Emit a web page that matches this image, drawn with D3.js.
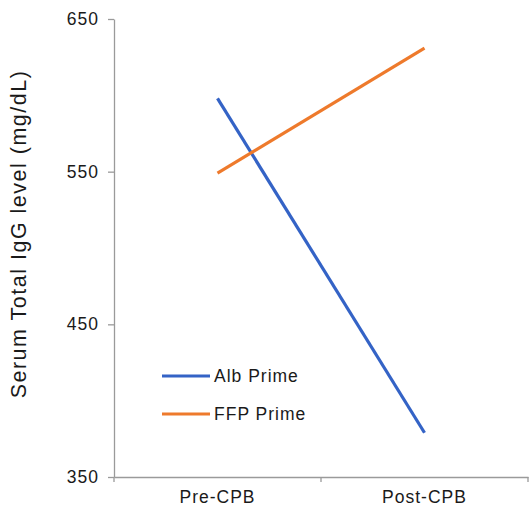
<!DOCTYPE html>
<html>
<head>
<meta charset="utf-8">
<script src="https://cdn.jsdelivr.net/npm/d3@7"></script>
<style>
  body { margin: 0; background: #fff; }
  text { font-family: "Liberation Sans", Arial, sans-serif; fill: #1a1a1a; }
</style>
</head>
<body>
<script>
// data van de grafiek
var categories = ["Pre-CPB", "Post-CPB"];
var seriesNames = ["Alb Prime", "FFP Prime"];
var albValues = [598, 379];
var ffpValues = [549, 631];
var yTicks = [350, 450, 550, 650];

var colors = ["#3463c6", "#ee7a2c"];

var margin = { top: 19, right: 1, bottom: 34, left: 114 },
    width = 529 - margin.left - margin.right,
    height = 511 - margin.top - margin.bottom;

var svg = d3.select("body").append("svg")
    .attr("width", 529)
    .attr("height", 511);

var g = svg.append("g")
    .attr("transform", "translate(" + margin.left + "," + margin.top + ")");

var x = d3.scaleBand()
    .domain(categories)
    .range([0, width])
    .padding(0);

var y = d3.scaleLinear()
    .domain([350, 650])
    .range([height, 0]);

var series = [
    { name: seriesNames[0], values: albValues, color: colors[0] },
    { name: seriesNames[1], values: ffpValues, color: colors[1] }
];

// y-as
var yAxis = g.append("g")
    .call(d3.axisLeft(y).tickValues(yTicks).tickSize(6).tickSizeOuter(0).tickPadding(9));
yAxis.selectAll("line, path").attr("stroke", "#9a9a9a").attr("stroke-width", 1.3);
yAxis.selectAll("text")
    .attr("font-size", 17.5)
    .attr("letter-spacing", 1)
    .style("font-family", "Liberation Sans, Arial, sans-serif")
    .attr("fill", "#1a1a1a");

// x-as met streepjes tussen de categorieen
var xAxis = g.append("g")
    .attr("transform", "translate(0," + height + ")")
    .call(d3.axisBottom(x).tickSize(0).tickSizeOuter(0).tickPadding(14));
xAxis.select("path").attr("stroke", "#9a9a9a").attr("stroke-width", 1.3);
xAxis.selectAll("text")
    .attr("font-size", 17.5)
    .attr("letter-spacing", 1)
    .style("font-family", "Liberation Sans, Arial, sans-serif")
    .attr("fill", "#1a1a1a");

var edges = categories.map(function (c) { return x(c); }).concat([x.range()[1]]);
xAxis.selectAll(".edge")
    .data(edges)
    .enter().append("line")
    .attr("class", "edge")
    .attr("x1", function (d) { return d; })
    .attr("x2", function (d) { return d; })
    .attr("y1", 0)
    .attr("y2", 5)
    .attr("stroke", "#9a9a9a")
    .attr("stroke-width", 1.3);

// lijnen
var line = d3.line()
    .x(function (d, i) { return x(categories[i]) + x.bandwidth() / 2; })
    .y(function (d) { return y(d); });

g.selectAll(".serie")
    .data(series)
    .enter().append("path")
    .attr("class", "serie")
    .attr("d", function (d) { return line(d.values); })
    .attr("fill", "none")
    .attr("stroke", function (d) { return d.color; })
    .attr("stroke-width", 3.2);

// titel van de y-as
svg.append("text")
    .attr("transform", "translate(26,234) rotate(-90)")
    .attr("text-anchor", "middle")
    .attr("font-size", 21.5)
    .attr("letter-spacing", 1.5)
    .text("Serum Total IgG level (mg/dL)");

// legenda
var legend = svg.append("g")
    .selectAll("g")
    .data(series)
    .enter().append("g")
    .attr("transform", function (d, i) {
        return "translate(162," + (376 + i * 38) + ")";
    });

legend.append("line")
    .attr("x1", 0)
    .attr("x2", 48)
    .attr("stroke", function (d) { return d.color; })
    .attr("stroke-width", 3.2);

legend.append("text")
    .attr("x", 52)
    .attr("dy", "0.35em")
    .attr("font-size", 17.5)
    .attr("letter-spacing", 1)
    .text(function (d) { return d.name; });
</script>
</body>
</html>
